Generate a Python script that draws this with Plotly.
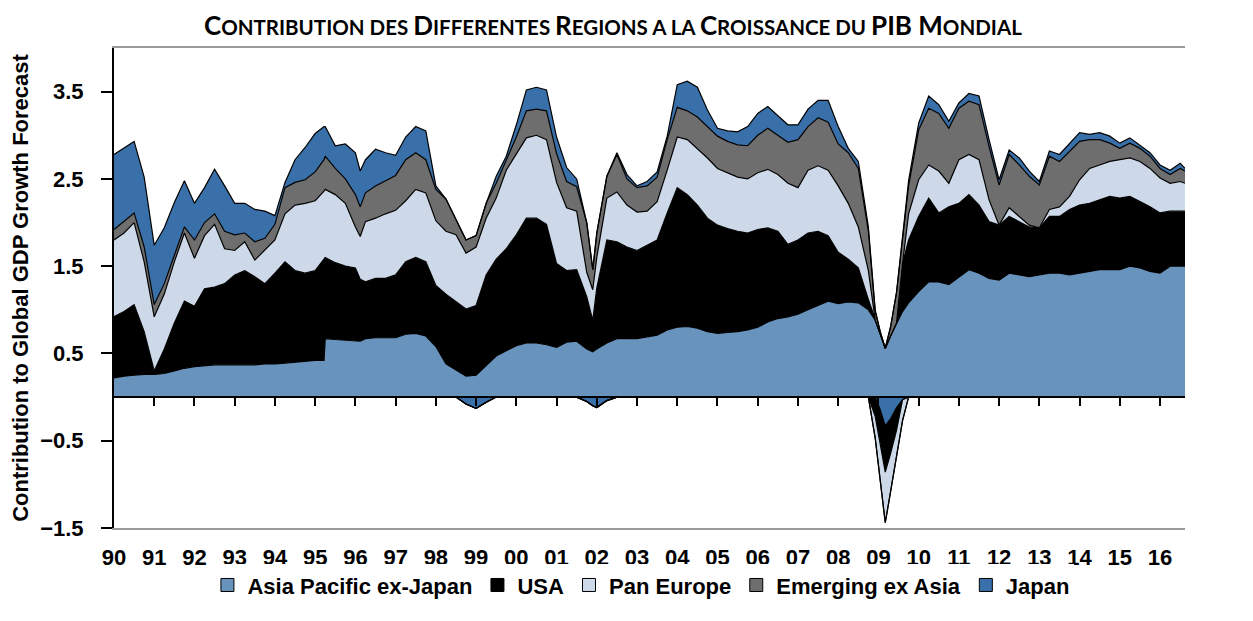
import numpy as np
import plotly.graph_objects as go

# contributions au PIB mondial (années décimales)
years = [
    1990.00, 1990.25, 1990.50, 1990.75, 1991.00, 1991.25, 1991.50, 1991.75,
    1992.00, 1992.25, 1992.50, 1992.75, 1993.00, 1993.25, 1993.50, 1993.75,
    1994.00, 1994.25, 1994.50, 1994.75, 1995.00, 1995.22, 1995.25, 1995.50,
    1995.75, 1996.00, 1996.12, 1996.25, 1996.50, 1996.75, 1997.00, 1997.25,
    1997.50, 1997.75, 1998.00, 1998.25, 1998.50, 1998.75, 1999.00, 1999.25,
    1999.50, 1999.75, 2000.00, 2000.25, 2000.50, 2000.75, 2001.00, 2001.25,
    2001.50, 2001.75, 2001.90, 2002.00, 2002.25, 2002.50, 2002.75, 2003.00,
    2003.25, 2003.50, 2003.75, 2004.00, 2004.25, 2004.50, 2004.75, 2005.00,
    2005.25, 2005.50, 2005.75, 2006.00, 2006.25, 2006.50, 2006.75, 2007.00,
    2007.25, 2007.50, 2007.75, 2008.00, 2008.25, 2008.50, 2008.75, 2008.92,
    2009.05, 2009.17, 2009.30, 2009.45, 2009.60, 2009.75, 2010.00, 2010.25,
    2010.50, 2010.75, 2011.00, 2011.25, 2011.50, 2011.75, 2012.00, 2012.25,
    2012.50, 2012.75, 2013.00, 2013.25, 2013.50, 2013.75, 2014.00, 2014.25,
    2014.50, 2014.75, 2015.00, 2015.25, 2015.50, 2015.75, 2016.00, 2016.25,
    2016.50, 2016.62,
]

asia_pacific = [
    0.22, 0.24, 0.25, 0.26, 0.26, 0.27, 0.30, 0.33,
    0.35, 0.36, 0.37, 0.37, 0.37, 0.37, 0.37, 0.38,
    0.38, 0.39, 0.40, 0.41, 0.42, 0.42, 0.67, 0.66,
    0.65, 0.64, 0.64, 0.67, 0.68, 0.68, 0.68, 0.72,
    0.73, 0.70, 0.58, 0.38, 0.31, 0.24, 0.25, 0.36,
    0.47, 0.53, 0.59, 0.62, 0.62, 0.60, 0.57, 0.63,
    0.64, 0.55, 0.52, 0.55, 0.62, 0.67, 0.67, 0.67,
    0.69, 0.71, 0.77, 0.80, 0.81, 0.79, 0.75, 0.73,
    0.74, 0.75, 0.77, 0.80, 0.86, 0.90, 0.92, 0.95,
    1.00, 1.05, 1.10, 1.07, 1.09, 1.08, 1.00, 0.88,
    0.72, 0.56, 0.70, 0.85, 0.98, 1.08, 1.21, 1.32,
    1.32, 1.29, 1.38, 1.46, 1.42, 1.36, 1.34, 1.42,
    1.40, 1.38, 1.40, 1.42, 1.42, 1.40, 1.42, 1.44,
    1.46, 1.46, 1.46, 1.50, 1.48, 1.44, 1.42, 1.50,
    1.50, 1.50,
]

usa = [
    0.70, 0.74, 0.81, 0.49, 0.04, 0.28, 0.55, 0.77,
    0.69, 0.88, 0.89, 0.93, 1.03, 1.08, 1.01, 0.92,
    1.04, 1.16, 1.05, 1.01, 1.03, 1.16, 0.93, 0.88,
    0.85, 0.84, 0.71, 0.65, 0.68, 0.68, 0.72, 0.83,
    0.87, 0.85, 0.70, 0.80, 0.79, 0.77, 0.80, 1.04,
    1.11, 1.17, 1.27, 1.43, 1.43, 1.38, 0.96, 0.82,
    0.82, 0.60, 0.36, 0.70, 1.18, 1.11, 1.05, 1.01,
    1.05, 1.09, 1.34, 1.60, 1.51, 1.41, 1.30, 1.24,
    1.19, 1.15, 1.11, 1.12, 1.08, 1.00, 0.83, 0.85,
    0.88, 0.85, 0.75, 0.59, 0.49, 0.40, 0.12, -0.22,
    -0.40, -0.53, -0.40, -0.26, 0.55, 0.72, 0.86, 0.96,
    0.79, 0.89, 0.84, 0.86, 0.78, 0.65, 0.63, 0.65,
    0.61, 0.57, 0.54, 0.65, 0.65, 0.75, 0.78, 0.78,
    0.80, 0.84, 0.82, 0.80, 0.76, 0.74, 0.69, 0.63,
    0.63, 0.63,
]

pan_europe = [
    0.88, 0.90, 0.94, 0.80, 0.62, 0.63, 0.70, 0.78,
    0.55, 0.61, 0.72, 0.40, 0.28, 0.33, 0.19, 0.38,
    0.38, 0.55, 0.75, 0.80, 0.80, 0.78, 0.78, 0.78,
    0.72, 0.47, 0.49, 0.69, 0.69, 0.74, 0.74, 0.70,
    0.78, 0.79, 0.74, 0.72, 0.76, 0.64, 0.67, 0.65,
    0.70, 0.90, 0.92, 0.92, 0.95, 0.97, 0.93, 0.72,
    0.67, 0.28, 0.35, 0.35, 0.48, 0.57, 0.48, 0.44,
    0.39, 0.44, 0.49, 0.58, 0.63, 0.65, 0.69, 0.65,
    0.64, 0.62, 0.62, 0.65, 0.67, 0.65, 0.70, 0.60,
    0.72, 0.75, 0.75, 0.76, 0.64, 0.47, 0.33, -0.25,
    -0.42, -0.58, -0.44, -0.30, -0.24, 0.30, 0.42, 0.38,
    0.48, 0.27, 0.50, 0.46, 0.52, 0.25, 0.00, 0.10,
    0.06, 0.02, 0.00, 0.08, 0.11, 0.15, 0.29, 0.40,
    0.40, 0.40, 0.44, 0.44, 0.46, 0.44, 0.40, 0.32,
    0.34, 0.32,
]

emerging_ex_asia = [
    0.12, 0.14, 0.11, 0.17, 0.14, 0.12, 0.07, 0.07,
    0.21, 0.15, 0.12, 0.20, 0.18, 0.10, 0.21, 0.14,
    0.18, 0.30, 0.26, 0.27, 0.33, 0.36, 0.38, 0.30,
    0.28, 0.37, 0.34, 0.33, 0.37, 0.38, 0.40, 0.47,
    0.42, 0.38, 0.36, 0.37, 0.17, 0.15, 0.13, 0.17,
    0.17, 0.12, 0.20, 0.31, 0.30, 0.33, 0.33, 0.30,
    0.28, 0.57, 0.23, 0.28, 0.25, 0.43, 0.30, 0.28,
    0.29, 0.28, 0.35, 0.34, 0.33, 0.36, 0.36, 0.37,
    0.36, 0.37, 0.38, 0.43, 0.47, 0.45, 0.47, 0.55,
    0.50, 0.55, 0.55, 0.48, 0.58, 0.67, 0.45, 0.10,
    0.02, 0.00, 0.10, 0.35, 0.30, 0.32, 0.57, 0.65,
    0.66, 0.63, 0.59, 0.61, 0.63, 0.61, 0.46, 0.61,
    0.59, 0.56, 0.49, 0.61, 0.52, 0.52, 0.44, 0.33,
    0.29, 0.21, 0.13, 0.17, 0.15, 0.14, 0.11, 0.10,
    0.15, 0.14,
]

japan = [
    0.86, 0.83, 0.82, 0.80, 0.68, 0.64, 0.61, 0.53,
    0.42, 0.40, 0.51, 0.52, 0.36, 0.34, 0.37, 0.31,
    0.10, 0.06, 0.26, 0.37, 0.44, 0.38, 0.34, 0.26,
    0.40, 0.48, 0.41, 0.38, 0.42, 0.32, 0.23, 0.26,
    0.30, 0.33, 0.04, 0.00, 0.00, -0.08, -0.13, -0.06,
    0.08, 0.04, 0.14, 0.24, 0.25, 0.24, 0.19, 0.16,
    0.09, -0.05, -0.10, -0.12, -0.04, 0.02, 0.05, 0.02,
    0.05, 0.06, 0.04, 0.26, 0.34, 0.34, 0.19, 0.09,
    0.12, 0.15, 0.22, 0.25, 0.25, 0.22, 0.20, 0.17,
    0.20, 0.20, 0.25, 0.20, 0.05, 0.08, 0.05, 0.02,
    -0.15, -0.33, -0.25, -0.12, -0.03, 0.06, 0.08, 0.14,
    0.10, 0.08, 0.06, 0.09, 0.10, 0.08, 0.06, 0.05,
    0.08, 0.06, 0.04, 0.06, 0.08, 0.09, 0.10, 0.06,
    0.08, 0.08, 0.06, 0.06, 0.04, 0.04, 0.04, 0.05,
    0.06, 0.03,
]

year_ticks = list(range(1990, 2017))
year_labels = [f"{y % 100:02d}" for y in year_ticks]
y_ticks = [-1.5, -0.5, 0.5, 1.5, 2.5, 3.5]

FONT = "Liberation Sans, Arial, sans-serif"
TITLE_FONT = "Lato, Open Sans, sans-serif"
Y_RANGE = [-1.5, 4.0]
X_RANGE = [1990.0, 2016.62]

series = [
    ("Asia Pacific ex-Japan", asia_pacific, "#6893BD"),
    ("USA", usa, "#000000"),
    ("Pan Europe", pan_europe, "#CDD9E8"),
    ("Emerging ex Asia", emerging_ex_asia, "#6E6E6E"),
    ("Japan", japan, "#3A70A9"),
]

fig = go.Figure()

# partie positive empilée au-dessus de zéro
for name, vals, col in series:
    v = np.array(vals)
    fig.add_trace(go.Scatter(
        x=years, y=np.clip(v, 0, None), stackgroup="pos", mode="lines",
        line=dict(color="black", width=1.2), fillcolor=col,
        name=name, showlegend=False,
    ))

# partie négative (1999, 2002, 2009) empilée sous zéro, sur l'axe x du zéro
for idx in [4, 1, 2, 3]:
    name, vals, col = series[idx]
    v = np.array(vals)
    fig.add_trace(go.Scatter(
        x=years, y=np.clip(v, None, 0), xaxis="x2", stackgroup="neg", mode="lines",
        line=dict(color="black", width=1.2), fillcolor=col,
        name=name, showlegend=False,
    ))

# légende avec des carrés
for name, vals, col in series:
    fig.add_trace(go.Scatter(
        x=[None], y=[None], mode="markers", name=name,
        marker=dict(symbol="square", size=13, color=col,
                    line=dict(color="black", width=1)),
    ))

BIG = "<span style='font-size:26px'>{}</span>"
title = (
    BIG.format("C") + "ONTRIBUTION DES "
    + BIG.format("D") + "IFFERENTES "
    + BIG.format("R") + "EGIONS A LA "
    + BIG.format("C") + "ROISSANCE DU "
    + BIG.format("PIB M") + "ONDIAL"
)

fig.update_layout(
    width=1237, height=605,
    margin=dict(l=106, r=60, t=40, b=85),
    paper_bgcolor="white", plot_bgcolor="white",
    title=dict(text=title, x=0.489, xanchor="center", y=0.968, yanchor="middle",
               font=dict(family=TITLE_FONT, size=20.5, color="black", weight="bold")),
    font=dict(family=FONT, size=22, color="black", weight="bold"),
    showlegend=True,
    legend=dict(orientation="h", x=0.492, xanchor="center",
                yref="container", y=0.046, yanchor="middle",
                traceorder="normal",
                font=dict(family=FONT, size=22, color="black", weight="bold"),
                itemwidth=30, tracegroupgap=0),
    xaxis=dict(
        range=X_RANGE, tickvals=year_ticks, ticktext=year_labels,
        ticks="", showgrid=False, zeroline=False, automargin=False,
        showline=True, linecolor="#9a9a9a", linewidth=2, mirror=True,
        ticklabelstandoff=9,
    ),
    xaxis2=dict(
        range=X_RANGE, overlaying="x", anchor="free", position=1.5 / 5.5,
        tickvals=year_ticks[1:], ticks="outside", ticklen=8, tickwidth=2,
        tickcolor="black", showticklabels=False, showgrid=False, zeroline=False,
        showline=True, linecolor="black", linewidth=2, automargin=False,
    ),
    yaxis=dict(
        range=Y_RANGE, tickvals=y_ticks, ticks="outside", ticklen=11, tickwidth=2,
        tickcolor="black", showgrid=False, zeroline=False, automargin=False,
        showline=True, linecolor="black", linewidth=2, ticklabelstandoff=13,
        title=dict(text="Contribution to Global GDP Growth Forecast", standoff=16,
                   font=dict(family=FONT, size=22, color="black", weight="bold")),
    ),
    yaxis2=dict(
        range=Y_RANGE, overlaying="y", side="right", anchor="x",
        tickvals=y_ticks, ticks="outside", ticklen=10, tickwidth=2, tickcolor="black",
        showgrid=False, zeroline=False, showline=True, linecolor="black", linewidth=2,
        ticklabelstandoff=12, automargin=False,
    ),
    yaxis3=dict(
        range=Y_RANGE, overlaying="y", side="right", anchor="x",
        tickvals=y_ticks, ticks="inside", ticklen=10, tickwidth=2, tickcolor="black",
        showticklabels=False, showgrid=False, zeroline=False, showline=False,
        automargin=False,
    ),
)

fig.write_html("out.html")
